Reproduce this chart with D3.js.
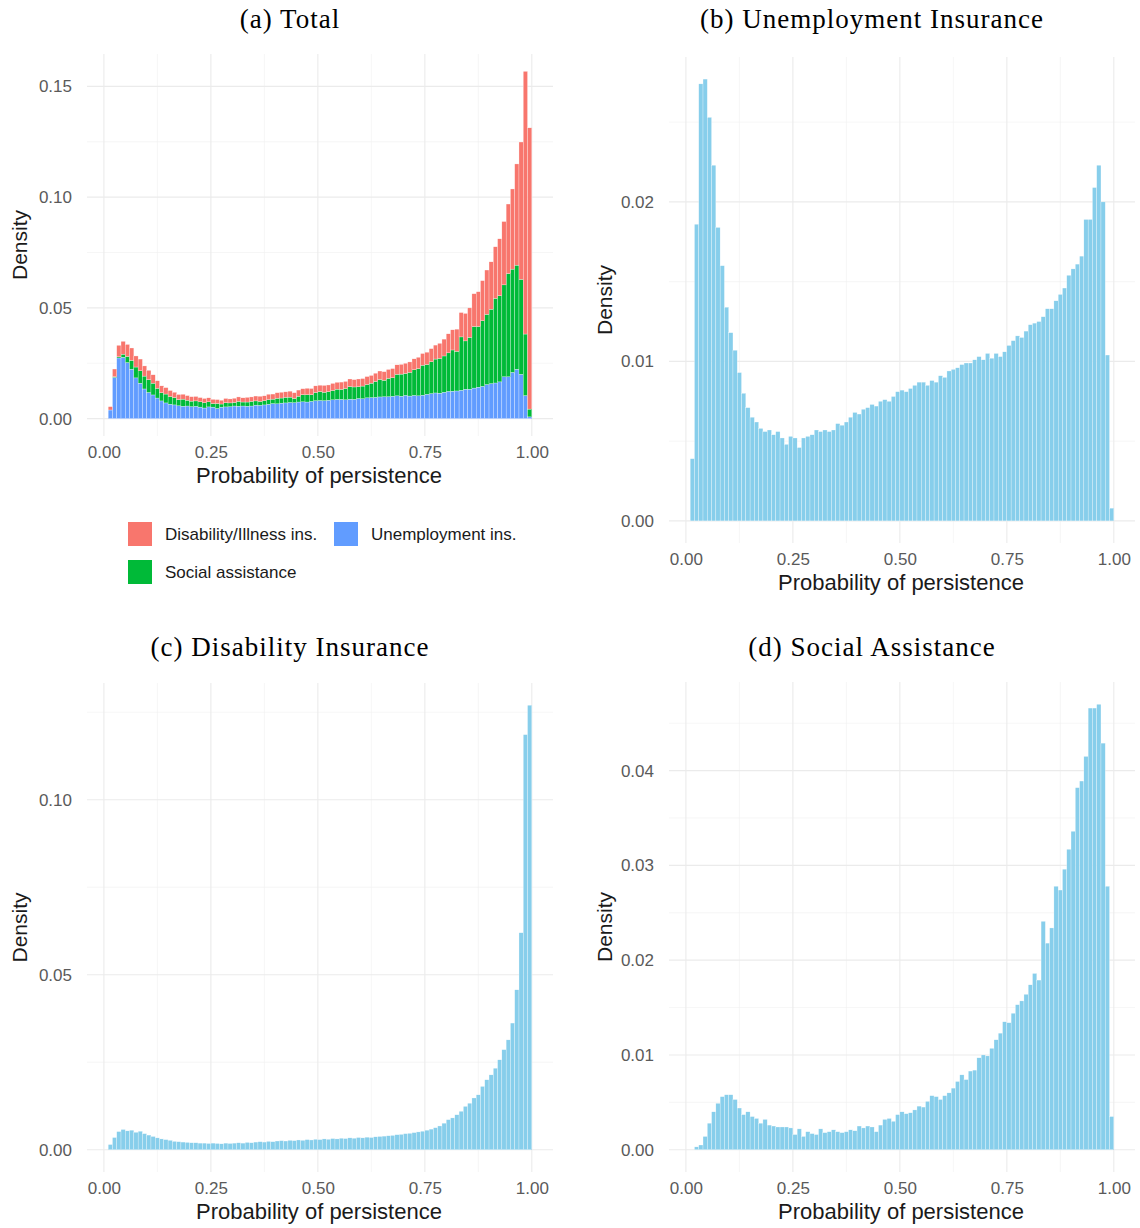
<!DOCTYPE html>
<html>
<head>
<meta charset="utf-8">
<script src="https://cdn.jsdelivr.net/npm/d3@7"></script>
<style>
  html, body { margin: 0; padding: 0; background: #ffffff; }
  svg { display: block; }
</style>
</head>
<body>
<svg id="chart" width="1140" height="1228"></svg>
<script>
// ---------------- DATA ----------------
// lower edge of each histogram bin (bin width 0.01)
const binWidth = 0.01;
const binStart = [
  0.01,0.02,0.03,0.04,0.05,0.06,0.07,0.08,0.09,0.10,
  0.11,0.12,0.13,0.14,0.15,0.16,0.17,0.18,0.19,0.20,
  0.21,0.22,0.23,0.24,0.25,0.26,0.27,0.28,0.29,0.30,
  0.31,0.32,0.33,0.34,0.35,0.36,0.37,0.38,0.39,0.40,
  0.41,0.42,0.43,0.44,0.45,0.46,0.47,0.48,0.49,0.50,
  0.51,0.52,0.53,0.54,0.55,0.56,0.57,0.58,0.59,0.60,
  0.61,0.62,0.63,0.64,0.65,0.66,0.67,0.68,0.69,0.70,
  0.71,0.72,0.73,0.74,0.75,0.76,0.77,0.78,0.79,0.80,
  0.81,0.82,0.83,0.84,0.85,0.86,0.87,0.88,0.89,0.90,
  0.91,0.92,0.93,0.94,0.95,0.96,0.97,0.98,0.99
];

// (b) Unemployment insurance density per bin
const unemployment = [
  0.0039,0.0186,0.0274,0.0277,0.0253,0.0223,0.0184,0.0160,0.0134,0.0118,
  0.0107,0.0093,0.0080,0.0071,0.0065,0.0062,0.0058,0.0056,0.0057,0.0054,
  0.0056,0.0052,0.0048,0.0053,0.0052,0.0046,0.0052,0.0053,0.0054,0.0057,
  0.0056,0.0057,0.0056,0.0057,0.0061,0.0060,0.0062,0.0065,0.0068,0.0067,
  0.0070,0.0071,0.0073,0.0072,0.0075,0.0076,0.0075,0.0078,0.0081,0.0082,
  0.0081,0.0083,0.0085,0.0087,0.0087,0.0085,0.0088,0.0087,0.0091,0.0090,
  0.0094,0.0095,0.0096,0.0098,0.0099,0.0099,0.0101,0.0103,0.0101,0.0105,
  0.0102,0.0105,0.0103,0.0106,0.0110,0.0113,0.0116,0.0115,0.0119,0.0123,
  0.0124,0.0125,0.0128,0.0133,0.0133,0.0138,0.0142,0.0146,0.0154,0.0158,
  0.0161,0.0166,0.0189,0.0189,0.0209,0.0223,0.0200,0.0104,0.0008
];

// (c) Disability insurance density per bin
const disability = [
  0.0015,0.0035,0.0052,0.0058,0.0054,0.0056,0.0050,0.0053,0.0046,0.0042,
  0.0038,0.0034,0.0031,0.0029,0.0027,0.0024,0.0023,0.0022,0.0021,0.0020,
  0.0020,0.0019,0.0019,0.0018,0.0019,0.0018,0.0017,0.0019,0.0018,0.0019,
  0.0020,0.0019,0.0021,0.0020,0.0022,0.0023,0.0022,0.0024,0.0023,0.0025,
  0.0026,0.0025,0.0027,0.0026,0.0028,0.0027,0.0029,0.0028,0.0030,0.0029,
  0.0031,0.0030,0.0032,0.0031,0.0033,0.0032,0.0034,0.0033,0.0035,0.0034,
  0.0036,0.0035,0.0037,0.0038,0.0039,0.0040,0.0041,0.0043,0.0044,0.0046,
  0.0047,0.0049,0.0051,0.0053,0.0056,0.0059,0.0063,0.0068,0.0076,0.0086,
  0.0091,0.0100,0.0110,0.0124,0.0133,0.0148,0.0157,0.0181,0.0200,0.0214,
  0.0233,0.0257,0.0286,0.0314,0.0362,0.0457,0.0620,0.1186,0.1270
];

// (d) Social assistance density per bin
const social = [
  0.0000,0.0003,0.0005,0.0014,0.0028,0.0040,0.0049,0.0056,0.0058,0.0058,
  0.0053,0.0044,0.0037,0.0040,0.0035,0.0033,0.0028,0.0032,0.0026,0.0025,
  0.0024,0.0024,0.0024,0.0023,0.0016,0.0022,0.0014,0.0019,0.0017,0.0016,
  0.0022,0.0018,0.0019,0.0021,0.0019,0.0018,0.0019,0.0021,0.0020,0.0025,
  0.0023,0.0025,0.0024,0.0019,0.0026,0.0032,0.0033,0.0030,0.0037,0.0040,
  0.0038,0.0039,0.0042,0.0046,0.0045,0.0051,0.0057,0.0056,0.0053,0.0057,
  0.0060,0.0065,0.0072,0.0079,0.0074,0.0083,0.0084,0.0097,0.0100,0.0099,
  0.0107,0.0116,0.0123,0.0135,0.0134,0.0144,0.0153,0.0157,0.0164,0.0174,
  0.0186,0.0179,0.0241,0.0218,0.0234,0.0278,0.0274,0.0296,0.0317,0.0336,
  0.0382,0.0389,0.0415,0.0466,0.0466,0.0470,0.0429,0.0278,0.0035
];

const xTicks = [0, 0.25, 0.5, 0.75, 1];
const yTicksTotal = [0, 0.05, 0.10, 0.15];
const yTicksUnemp = [0, 0.01, 0.02];
const yTicksDisab = [0, 0.05, 0.10];
const yTicksSocial = [0, 0.01, 0.02, 0.03, 0.04];

const panelTitles = ["(a) Total", "(b) Unemployment Insurance", "(c) Disability Insurance", "(d) Social Assistance"];
const xTitle = "Probability of persistence";
const yTitle = "Density";
// stacking order: bottom to top
const stackKeys = ["Unemployment ins.", "Social assistance", "Disability/Illness ins."];
const legendOrder = ["Disability/Illness ins.", "Unemployment ins.", "Social assistance"];

// ---------------- STYLE ----------------
const colors = {
  "Disability/Illness ins.": "#F8766D",
  "Social assistance": "#00BA38",
  "Unemployment ins.": "#619CFF"
};
const barBlue = "#87CEEB";
const sans = "'Liberation Sans', Arial, Helvetica, sans-serif";
const serif = "'Liberation Serif', 'Times New Roman', serif";

const svg = d3.select("#chart");
svg.append("rect").attr("width", 1140).attr("height", 1228).attr("fill", "#fff");

const fmt = d3.format(".2f");

function drawPanel(opt) {
  const g = svg.append("g");
  const lo = d3.min(binStart), hi = d3.max(binStart) + binWidth;
  const padX = 0.05 * (hi - lo);
  const x = d3.scaleLinear().domain([lo - padX, hi + padX]).range([opt.left, opt.right]);
  const ymax = opt.ymax;
  const y = d3.scaleLinear().domain([-0.05 * ymax, 1.05 * ymax]).range([opt.bottom, opt.top]);

  // minor grid
  const yt = opt.yTicks;
  const step = yt[1] - yt[0];
  const yMinor = [];
  for (let i = 0; i < yt.length + 1; i++) {
    const v = yt[0] + step * (i + 0.5);
    if (v <= y.domain()[1]) yMinor.push(v);
  }
  const xMinor = [0.125, 0.375, 0.625, 0.875];
  g.selectAll(".ymin").data(yMinor).join("line")
    .attr("x1", opt.left).attr("x2", opt.right)
    .attr("y1", d => y(d)).attr("y2", d => y(d))
    .attr("stroke", "#F0F0F0").attr("stroke-width", 0.6);
  g.selectAll(".xmin").data(xMinor).join("line")
    .attr("y1", opt.top).attr("y2", opt.bottom)
    .attr("x1", d => x(d)).attr("x2", d => x(d))
    .attr("stroke", "#F0F0F0").attr("stroke-width", 0.6);
  // major grid
  g.selectAll(".ymaj").data(yt).join("line")
    .attr("x1", opt.left).attr("x2", opt.right)
    .attr("y1", d => y(d)).attr("y2", d => y(d))
    .attr("stroke", "#EBEBEB").attr("stroke-width", 1.1);
  g.selectAll(".xmaj").data(xTicks).join("line")
    .attr("y1", opt.top).attr("y2", opt.bottom)
    .attr("x1", d => x(d)).attr("x2", d => x(d))
    .attr("stroke", "#EBEBEB").attr("stroke-width", 1.1);

  // bars
  if (opt.stacked) {
    const table = binStart.map((b, i) => ({
      b,
      "Unemployment ins.": unemployment[i],
      "Social assistance": social[i],
      "Disability/Illness ins.": disability[i]
    }));
    const series = d3.stack().keys(stackKeys)(table);
    g.selectAll(".layer").data(series).join("g")
      .attr("fill", d => colors[d.key])
      .selectAll("rect").data(d => d).join("rect")
      .attr("x", d => x(d.data.b))
      .attr("width", d => x(d.data.b + binWidth) - x(d.data.b))
      .attr("y", d => y(d[1]))
      .attr("height", d => Math.max(0, y(d[0]) - y(d[1])))
      .attr("stroke", "#ffffff").attr("stroke-width", 0.35).attr("stroke-opacity", 0.8);
  } else {
    g.selectAll(".bar").data(opt.values.map((v, i) => ({ b: binStart[i], v }))).join("rect")
      .attr("x", d => x(d.b))
      .attr("width", d => x(d.b + binWidth) - x(d.b))
      .attr("y", d => y(d.v))
      .attr("height", d => y(0) - y(d.v))
      .attr("fill", barBlue)
      .attr("stroke", "#ffffff").attr("stroke-width", 0.35).attr("stroke-opacity", 0.8);
  }

  // axes
  const ax = g.append("g").attr("transform", `translate(0,${opt.bottom})`)
    .call(d3.axisBottom(x).tickValues(xTicks).tickFormat(fmt).tickSize(0).tickPadding(10));
  const ay = g.append("g").attr("transform", `translate(${opt.left},0)`)
    .call(d3.axisLeft(y).tickValues(yt).tickFormat(fmt).tickSize(0).tickPadding(15));
  [ax, ay].forEach(a => {
    a.select(".domain").remove();
    a.selectAll("text").attr("font-family", sans).attr("font-size", 17).attr("fill", "#5a5a5a");
  });

  // axis titles
  g.append("text")
    .attr("x", (opt.left + opt.right) / 2 - 1).attr("y", opt.bottom + 47)
    .attr("text-anchor", "middle").attr("font-family", sans).attr("font-size", 22)
    .attr("fill", "#1a1a1a").text(xTitle);
  g.append("text")
    .attr("transform", `translate(${opt.ylabX},${(opt.top + opt.bottom) / 2}) rotate(-90)`)
    .attr("text-anchor", "middle").attr("dy", "0.35em").attr("font-family", sans).attr("font-size", 21)
    .attr("fill", "#1a1a1a").text(yTitle);

  // panel title
  g.append("text")
    .attr("x", opt.titleX).attr("y", opt.titleY)
    .attr("text-anchor", "middle").attr("font-family", serif).attr("font-size", 27)
    .attr("letter-spacing", "1px")
    .attr("fill", "#000").text(opt.title);
}

const totals = binStart.map((b, i) => unemployment[i] + social[i] + disability[i]);

drawPanel({ title: panelTitles[0], titleX: 290, titleY: 28, left: 87, right: 553, top: 54, bottom: 436,
  ymax: d3.max(totals), yTicks: yTicksTotal, stacked: true, ylabX: 20 });
drawPanel({ title: panelTitles[1], titleX: 872, titleY: 28, left: 669, right: 1135, top: 57, bottom: 543,
  ymax: d3.max(unemployment), yTicks: yTicksUnemp, values: unemployment, ylabX: 605 });
drawPanel({ title: panelTitles[2], titleX: 290, titleY: 656, left: 87, right: 553, top: 683, bottom: 1172,
  ymax: d3.max(disability), yTicks: yTicksDisab, values: disability, ylabX: 20 });
drawPanel({ title: panelTitles[3], titleX: 872, titleY: 656, left: 669, right: 1135, top: 682, bottom: 1172,
  ymax: d3.max(social), yTicks: yTicksSocial, values: social, ylabX: 605 });

// legend for panel (a)
const legendPos = {
  "Disability/Illness ins.": [128, 522],
  "Unemployment ins.": [334, 522],
  "Social assistance": [128, 560]
};
const leg = svg.append("g");
legendOrder.forEach(k => {
  const [lx, ly] = legendPos[k];
  leg.append("rect").attr("x", lx).attr("y", ly).attr("width", 24).attr("height", 24).attr("fill", colors[k]);
  leg.append("text").attr("x", lx + 37).attr("y", ly + 12).attr("dy", "0.35em")
    .attr("font-family", sans).attr("font-size", 17).attr("fill", "#1a1a1a").text(k);
});
</script>
</body>
</html>
